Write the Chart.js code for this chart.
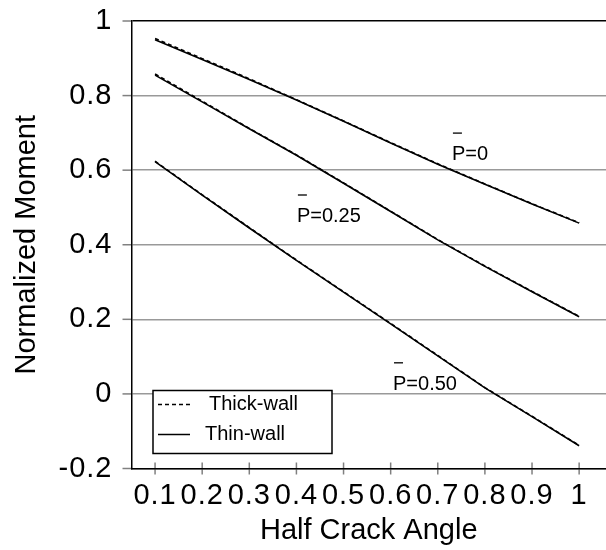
<!DOCTYPE html>
<html><head><meta charset="utf-8">
<script src="https://cdn.jsdelivr.net/npm/chart.js@4.4.1/dist/chart.umd.min.js"></script>
<style>html,body{margin:0;padding:0;background:#fff}canvas{display:block}</style>
</head><body>
<canvas id="c" width="606" height="550"></canvas>
<script>
// ---- data ----
const halfCrackAngle = [0.1, 0.2, 0.3, 0.4, 0.5, 0.6, 0.7, 0.8, 0.9, 1.0];
const thinP0    = [0.950, 0.897, 0.843, 0.788, 0.731, 0.673, 0.616, 0.562, 0.509, 0.458];
const thickP0   = [0.953, 0.899, 0.845, 0.789, 0.732, 0.674, 0.617, 0.563, 0.510, 0.459];
const thinP025  = [0.855, 0.783, 0.711, 0.640, 0.565, 0.489, 0.413, 0.342, 0.274, 0.207];
const thickP025 = [0.858, 0.785, 0.712, 0.641, 0.566, 0.490, 0.414, 0.343, 0.275, 0.208];
const thinP050  = [0.623, 0.533, 0.445, 0.358, 0.273, 0.188, 0.102, 0.016, -0.061, -0.139];
const thickP050 = [0.624, 0.534, 0.446, 0.359, 0.274, 0.189, 0.103, 0.017, -0.060, -0.138];
const xTickValues = [0.1, 0.2, 0.3, 0.4, 0.5, 0.6, 0.7, 0.8, 0.9, 1.0];
const xTickLabels = ['0.1', '0.2', '0.3', '0.4', '0.5', '0.6', '0.7', '0.8', '0.9', '1'];
const yTickValues = [-0.2, -0.1, 0, 0.1, 0.2, 0.3, 0.4, 0.5, 0.6, 0.7, 0.8, 0.9, 1.0];
const yTickLabels = ['-0.2', '', '0', '', '0.2', '', '0.4', '', '0.6', '', '0.8', '', '1'];
const curveLabels = ['P=0', 'P=0.25', 'P=0.50'];
const legendLabels = ['Thick-wall', 'Thin-wall'];
const xTitle = 'Half Crack Angle';
const yTitle = 'Normalized Moment';

// label anchors (data coordinates of the left edge / baseline of each label)
const curveLabelAnchors = [[0.730, 0.627], [0.401, 0.461], [0.605, 0.011]];

const FONT = "'Liberation Sans', Arial, sans-serif";
const TICK_SPACING = '1px';

class SpacedLinearScale extends Chart.LinearScale {
  drawLabels(area) {
    const ctx = this.ctx;
    ctx.save();
    if ('letterSpacing' in ctx) ctx.letterSpacing = TICK_SPACING;
    super.drawLabels(area);
    ctx.restore();
  }
}
SpacedLinearScale.id = 'spacedLinear';
SpacedLinearScale.defaults = Chart.LinearScale.defaults;
Chart.register(SpacedLinearScale);

const pts = (ys) => halfCrackAngle.map((x, i) => ({x: x, y: ys[i]}));

const tickMarks = {
  id: 'tickMarks',
  beforeDraw(chart) {
    const {ctx, chartArea: a, scales: {x, y}} = chart;
    ctx.save();
    ctx.strokeStyle = '#808080';
    ctx.lineWidth = 1.5;
    y.ticks.forEach(t => {
      const py = y.getPixelForValue(t.value);
      const major = Math.round(t.value * 10) % 2 === 0;
      ctx.beginPath();
      if (major) { ctx.moveTo(a.left - 9, py); ctx.lineTo(a.left, py); }
      else { ctx.moveTo(a.left - 5, py); ctx.lineTo(a.left + 6, py); }
      ctx.stroke();
    });
    x.ticks.forEach(t => {
      const px = x.getPixelForValue(t.value);
      ctx.beginPath(); ctx.moveTo(px, a.bottom - 6); ctx.lineTo(px, a.bottom + 6); ctx.stroke();
    });
    ctx.restore();
  }
};

const annotations = {
  id: 'annotations',
  afterDatasetsDraw(chart) {
    const {ctx, chartArea: a, scales: {x, y}} = chart;
    ctx.save();
    // curve labels with overbar on P
    ctx.font = '20px ' + FONT;
    ctx.fillStyle = '#000';
    ctx.textAlign = 'left';
    ctx.textBaseline = 'alphabetic';
    ctx.strokeStyle = '#000';
    ctx.lineWidth = 1.3;
    curveLabels.forEach((txt, i) => {
      const px = x.getPixelForValue(curveLabelAnchors[i][0]);
      const py = y.getPixelForValue(curveLabelAnchors[i][1]);
      ctx.fillText(txt, px, py);
      ctx.beginPath(); ctx.moveTo(px + 1, py - 27); ctx.lineTo(px + 10, py - 27); ctx.stroke();
    });
    // legend box
    const bx = a.left + 21.5, by = 390.5, bw = 179, bh = 63;
    ctx.fillStyle = '#fff';
    ctx.fillRect(bx, by, bw, bh);
    ctx.lineWidth = 1.5;
    ctx.strokeRect(bx, by, bw, bh);
    ctx.fillStyle = '#000';
    ctx.font = '20px ' + FONT;
    ctx.textBaseline = 'middle';
    ctx.lineWidth = 1.5;
    ctx.setLineDash([4, 3]);
    ctx.beginPath(); ctx.moveTo(bx + 5, by + 14); ctx.lineTo(bx + 39, by + 14); ctx.stroke();
    ctx.setLineDash([]);
    ctx.beginPath(); ctx.moveTo(bx + 5, by + 44); ctx.lineTo(bx + 37, by + 44); ctx.stroke();
    ctx.fillText(legendLabels[0], bx + 56, by + 14);
    ctx.fillText(legendLabels[1], bx + 52, by + 44);
    ctx.restore();
  }
};

const lineStyle = (label, data, dashed) => ({
  label: label, data: data,
  borderColor: '#000', backgroundColor: '#000',
  borderWidth: 1.6, borderDash: dashed ? [4, 3] : [],
  pointRadius: 0, tension: 0, fill: false
});

const noPad = (s) => { s.paddingTop = 0; s.paddingBottom = 0; s.paddingLeft = 0; s.paddingRight = 0; };

new Chart(document.getElementById('c'), {
  type: 'line',
  data: {
    datasets: [
      lineStyle('Thick-wall P=0', pts(thickP0), true),
      lineStyle('Thin-wall P=0', pts(thinP0), false),
      lineStyle('Thick-wall P=0.25', pts(thickP025), true),
      lineStyle('Thin-wall P=0.25', pts(thinP025), false),
      lineStyle('Thick-wall P=0.50', pts(thickP050), true),
      lineStyle('Thin-wall P=0.50', pts(thinP050), false)
    ]
  },
  options: {
    responsive: false,
    animation: false,
    devicePixelRatio: 1,
    layout: {padding: {left: 0, right: 0, top: 21, bottom: 0}},
    plugins: {legend: {display: false}, tooltip: {enabled: false}},
    scales: {
      x: {
        type: 'spacedLinear',
        min: 0.05, max: 1.057,
        afterBuildTicks: (s) => { s.ticks = xTickValues.map(v => ({value: v})); },
        afterFit: (s) => { s.height = 81.5; noPad(s); },
        ticks: {
          autoSkip: false, maxRotation: 0, minRotation: 0, padding: 10,
          color: '#000', font: {family: FONT, size: 29},
          callback: (v, i) => xTickLabels[i]
        },
        grid: {drawOnChartArea: false, drawTicks: false},
        border: {display: true, color: '#000', width: 1.5},
        title: {display: true, text: xTitle, color: '#000',
                font: {family: FONT, size: 29}, padding: {top: 0, bottom: 2}}
      },
      y: {
        type: 'spacedLinear',
        min: -0.2, max: 1.0,
        afterBuildTicks: (s) => { s.ticks = yTickValues.map(v => ({value: v})); },
        afterFit: (s) => { s.width = 131.5; noPad(s); },
        ticks: {
          padding: 19, color: '#000', font: {family: FONT, size: 29},
          callback: (v, i) => yTickLabels[i]
        },
        grid: {
          drawTicks: false, lineWidth: 1.5,
          color: (c) => {
            const v = c.tick ? c.tick.value : 0;
            const k = Math.round(v * 10);
            if (k === 10) return '#000';
            return k % 2 === 0 ? '#999' : 'rgba(0,0,0,0)';
          }
        },
        border: {display: true, color: '#000', width: 1.5},
        title: {display: true, text: yTitle, color: '#000',
                font: {family: FONT, size: 29}, padding: {top: 10, bottom: 0}}
      }
    }
  },
  plugins: [tickMarks, annotations]
});
</script>
</body></html>
